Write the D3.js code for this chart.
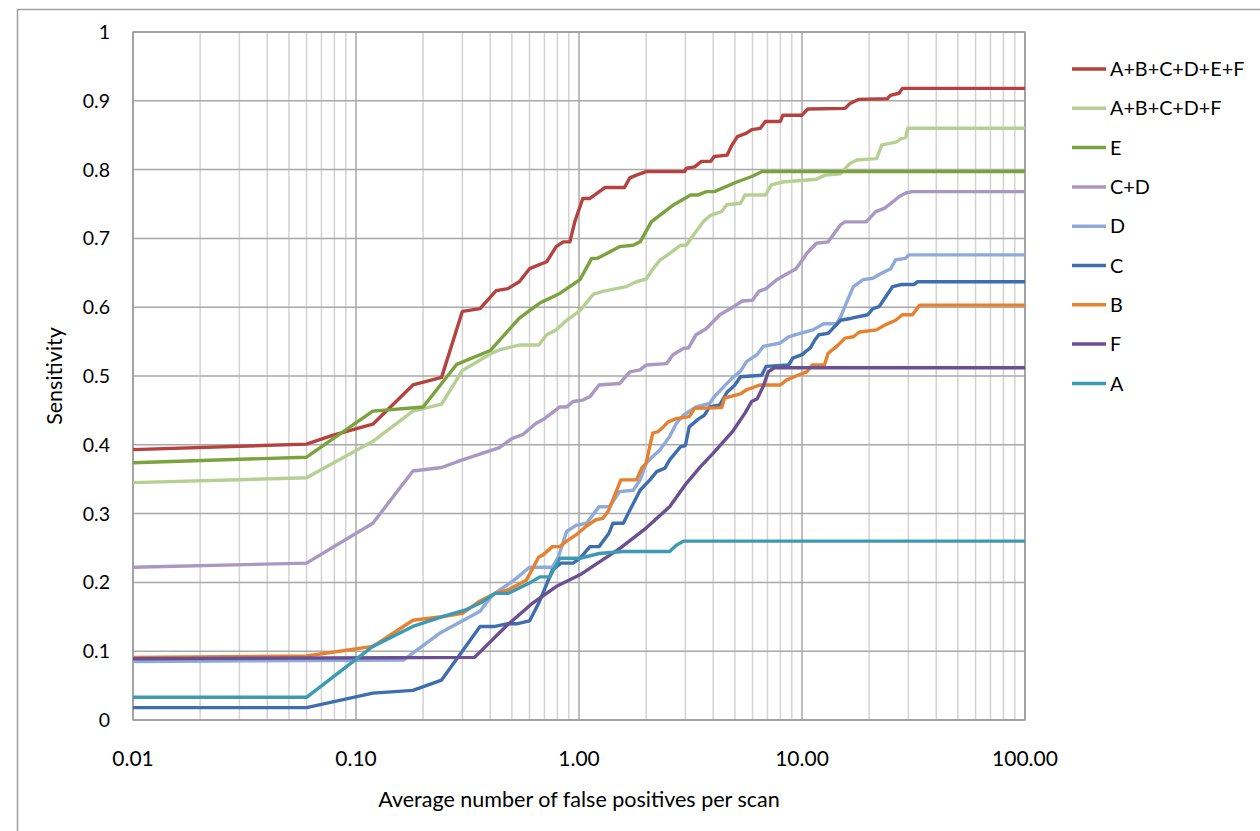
<!DOCTYPE html>
<html>
<head>
<meta charset="utf-8">
<script src="https://cdn.jsdelivr.net/npm/d3@7"></script>
<style>
  html, body { margin: 0; padding: 0; background: #fff; }
  svg { display: block; font-family: Lato, "Open Sans", sans-serif; }
</style>
</head>
<body>
<svg id="chart" width="1260" height="831"></svg>
<script>
// Series data: [false positives per scan, sensitivity]
const seriesNames = ['A+B+C+D+E+F', 'A+B+C+D+F', 'E', 'C+D', 'D', 'C', 'B', 'F', 'A'];
const seriesColors = ['#b5423e', '#b6d093', '#7aa23e', '#a898c4', '#8eaadb', '#3e6ead', '#e6812f', '#6a4f92', '#3c9bb2'];

const dataABCDEF = [[0.01,0.393],[0.06,0.401],[0.079,0.414],[0.119,0.430],[0.18,0.487],[0.242,0.498],[0.30,0.594],[0.36,0.598],[0.425,0.624],[0.48,0.627],[0.54,0.637],[0.60,0.656],[0.716,0.666],[0.79,0.688],[0.85,0.695],[0.91,0.695],[0.957,0.724],[1.04,0.758],[1.12,0.758],[1.31,0.774],[1.60,0.774],[1.69,0.788],[1.81,0.792],[2.0,0.797],[2.97,0.797],[3.03,0.802],[3.3,0.804],[3.54,0.812],[3.9,0.812],[4.04,0.819],[4.61,0.821],[4.86,0.836],[5.13,0.848],[5.64,0.853],[5.95,0.858],[6.5,0.860],[6.85,0.870],[8.0,0.870],[8.2,0.879],[9.98,0.879],[10.6,0.888],[15.6,0.889],[16.4,0.896],[17.9,0.902],[24.1,0.903],[24.9,0.908],[27.2,0.911],[28.2,0.918],[100,0.918]];
const dataABCDF = [[0.01,0.345],[0.06,0.352],[0.119,0.405],[0.18,0.449],[0.242,0.459],[0.30,0.508],[0.40,0.532],[0.44,0.538],[0.54,0.545],[0.66,0.545],[0.716,0.560],[0.79,0.567],[0.88,0.581],[1.01,0.595],[1.16,0.619],[1.28,0.623],[1.47,0.627],[1.63,0.630],[1.81,0.637],[2.0,0.641],[2.14,0.655],[2.3,0.668],[2.5,0.676],[2.85,0.690],[3.03,0.690],[3.3,0.707],[3.6,0.724],[3.9,0.734],[4.36,0.739],[4.6,0.749],[5.3,0.751],[5.55,0.763],[6.85,0.763],[7.3,0.778],[8.2,0.782],[11.6,0.786],[12.7,0.792],[14.9,0.794],[16.4,0.809],[17.6,0.814],[21.6,0.816],[22.8,0.836],[26.4,0.840],[27.9,0.845],[29.2,0.847],[29.8,0.860],[100,0.860]];
const dataE = [[0.01,0.374],[0.06,0.382],[0.119,0.449],[0.20,0.455],[0.283,0.517],[0.40,0.537],[0.54,0.584],[0.667,0.606],[0.82,0.620],[1.01,0.640],[1.14,0.671],[1.21,0.671],[1.52,0.688],[1.75,0.690],[1.88,0.695],[2.11,0.724],[2.66,0.749],[3.17,0.763],[3.4,0.763],[3.73,0.768],[4.04,0.768],[5.1,0.782],[5.95,0.790],[6.6,0.797],[100,0.797]];
const dataCD = [[0.01,0.222],[0.06,0.228],[0.119,0.286],[0.18,0.362],[0.242,0.367],[0.30,0.378],[0.44,0.396],[0.50,0.409],[0.56,0.415],[0.64,0.431],[0.70,0.438],[0.82,0.455],[0.88,0.455],[0.94,0.463],[1.04,0.465],[1.12,0.470],[1.23,0.487],[1.52,0.489],[1.69,0.506],[1.88,0.509],[2.0,0.516],[2.47,0.518],[2.64,0.531],[2.94,0.540],[3.1,0.541],[3.35,0.560],[3.73,0.569],[4.28,0.589],[4.78,0.598],[5.4,0.609],[6.0,0.610],[6.4,0.623],[6.9,0.627],[7.7,0.640],[8.5,0.648],[9.4,0.656],[10.0,0.668],[10.5,0.678],[11.6,0.693],[13.1,0.695],[14.9,0.720],[15.6,0.724],[19.4,0.724],[21.4,0.739],[23.5,0.744],[25.5,0.753],[27.3,0.761],[29.2,0.766],[31.2,0.768],[100,0.768]];
const dataD = [[0.01,0.085],[0.163,0.087],[0.237,0.126],[0.36,0.158],[0.41,0.182],[0.51,0.203],[0.60,0.222],[0.76,0.222],[0.81,0.238],[0.88,0.274],[0.97,0.283],[1.08,0.286],[1.23,0.310],[1.37,0.310],[1.52,0.332],[1.75,0.334],[1.88,0.349],[2.0,0.373],[2.14,0.383],[2.3,0.392],[2.55,0.412],[2.73,0.431],[2.94,0.443],[3.35,0.455],[3.85,0.460],[4.04,0.470],[4.6,0.489],[4.86,0.497],[5.3,0.507],[5.64,0.521],[6.28,0.531],[6.7,0.543],[8.0,0.548],[8.7,0.557],[9.8,0.562],[11.2,0.567],[12.5,0.576],[14.3,0.576],[14.9,0.586],[15.9,0.608],[17.0,0.630],[18.8,0.640],[20.8,0.642],[22.6,0.649],[25,0.656],[26.3,0.669],[29.1,0.671],[30.1,0.676],[100,0.676]];
const dataC = [[0.01,0.018],[0.06,0.018],[0.119,0.039],[0.18,0.043],[0.242,0.058],[0.36,0.136],[0.42,0.136],[0.48,0.140],[0.53,0.140],[0.60,0.144],[0.667,0.173],[0.76,0.218],[0.83,0.228],[0.94,0.228],[1.01,0.235],[1.12,0.252],[1.23,0.252],[1.36,0.271],[1.42,0.286],[1.58,0.286],[1.69,0.305],[1.88,0.334],[2.08,0.349],[2.23,0.361],[2.43,0.366],[2.55,0.378],[2.85,0.397],[3.0,0.399],[3.12,0.426],[3.45,0.438],[3.65,0.443],[3.85,0.455],[4.28,0.458],[4.6,0.476],[5.0,0.487],[5.3,0.499],[6.6,0.501],[6.9,0.514],[8.7,0.516],[9.1,0.526],[10.0,0.531],[10.9,0.541],[11.4,0.552],[11.9,0.560],[13.1,0.562],[14.9,0.581],[16.7,0.584],[19.7,0.589],[20.8,0.598],[22.2,0.601],[23.5,0.613],[25.5,0.630],[28.0,0.633],[31.7,0.633],[33.0,0.637],[100,0.637]];
const dataB = [[0.01,0.091],[0.06,0.093],[0.119,0.107],[0.18,0.145],[0.242,0.150],[0.30,0.155],[0.36,0.173],[0.42,0.184],[0.48,0.189],[0.58,0.203],[0.66,0.237],[0.69,0.240],[0.76,0.252],[0.82,0.252],[0.88,0.260],[0.97,0.269],[1.08,0.282],[1.19,0.291],[1.28,0.293],[1.36,0.305],[1.54,0.349],[1.81,0.349],[1.91,0.366],[2.0,0.373],[2.14,0.417],[2.26,0.419],[2.39,0.426],[2.5,0.433],[2.73,0.438],[3.12,0.441],[3.3,0.453],[4.36,0.454],[4.5,0.468],[5.3,0.474],[5.64,0.480],[6.5,0.487],[8.0,0.487],[8.5,0.494],[9.4,0.500],[10.5,0.506],[11.1,0.516],[12.6,0.516],[13.1,0.533],[14.3,0.543],[15.6,0.555],[17.0,0.557],[18.1,0.564],[21.6,0.567],[23.5,0.574],[26.3,0.581],[28.2,0.589],[31.3,0.589],[33.7,0.603],[100,0.603]];
const dataF = [[0.01,0.089],[0.34,0.091],[0.47,0.136],[0.62,0.170],[0.79,0.194],[1.01,0.211],[1.52,0.249],[2.0,0.279],[2.55,0.310],[3.03,0.344],[3.5,0.368],[4.0,0.388],[4.9,0.420],[5.55,0.446],[5.95,0.463],[6.3,0.467],[6.7,0.485],[7.06,0.506],[7.5,0.512],[100,0.512]];
const dataA = [[0.01,0.033],[0.06,0.033],[0.119,0.107],[0.18,0.136],[0.242,0.150],[0.31,0.160],[0.37,0.172],[0.42,0.184],[0.48,0.184],[0.60,0.199],[0.667,0.208],[0.74,0.208],[0.82,0.235],[1.01,0.235],[1.23,0.242],[1.58,0.245],[2.55,0.245],[2.73,0.254],[2.94,0.260],[100,0.260]];

const allSeries = [dataABCDEF, dataABCDF, dataE, dataCD, dataD, dataC, dataB, dataF, dataA];

// Tick values
const xTicks = [0.01, 0.1, 1, 10, 100];
const xTickLabels = ['0.01', '0.10', '1.00', '10.00', '100.00'];
const yTicks = [0, 0.1, 0.2, 0.3, 0.4, 0.5, 0.6, 0.7, 0.8, 0.9, 1];
const yTickLabels = ['0', '0.1', '0.2', '0.3', '0.4', '0.5', '0.6', '0.7', '0.8', '0.9', '1'];

const svg = d3.select('#chart');
const plot = { left: 133, top: 32, right: 1025, bottom: 720 };

// outer chart border (right/bottom edges fall outside the picture)
svg.append('rect')
  .attr('x', 17.5).attr('y', 9.5)
  .attr('width', 1300).attr('height', 900)
  .attr('fill', 'none').attr('stroke', '#a0a0a0').attr('stroke-width', 1.5);

const x = d3.scaleLog().domain([0.01, 100]).range([plot.left, plot.right]);
const y = d3.scaleLinear().domain([0, 1]).range([plot.bottom, plot.top]);

// Minor vertical grid lines (2..9 in each decade)
const minorX = [];
for (let d = -2; d < 2; d++) {
  for (let k = 2; k <= 9; k++) minorX.push(k * Math.pow(10, d));
}
svg.append('g').selectAll('line')
  .data(minorX).enter().append('line')
    .attr('x1', d => x(d)).attr('x2', d => x(d))
    .attr('y1', plot.top).attr('y2', plot.bottom)
    .attr('stroke', '#d3d3d3').attr('stroke-width', 1.5);

// Major grid lines
svg.append('g').selectAll('line')
  .data(xTicks).enter().append('line')
    .attr('x1', d => x(d)).attr('x2', d => x(d))
    .attr('y1', plot.top).attr('y2', plot.bottom)
    .attr('stroke', '#a9a9a9').attr('stroke-width', 1.5);
svg.append('g').selectAll('line')
  .data(yTicks).enter().append('line')
    .attr('x1', plot.left).attr('x2', plot.right)
    .attr('y1', d => y(d)).attr('y2', d => y(d))
    .attr('stroke', '#a9a9a9').attr('stroke-width', 1.5);

// Plot area border
svg.append('rect')
  .attr('x', plot.left).attr('y', plot.top)
  .attr('width', plot.right - plot.left).attr('height', plot.bottom - plot.top)
  .attr('fill', 'none').attr('stroke', '#9a9a9a').attr('stroke-width', 1.5);

// Axes labels
svg.append('g').selectAll('text')
  .data(yTicks).enter().append('text')
    .attr('x', 110).attr('y', d => y(d))
    .attr('dy', '0.36em')
    .attr('text-anchor', 'end')
    .attr('font-size', 19.5)
    .attr('fill', '#000')
    .text((d, i) => yTickLabels[i]);

svg.append('g').selectAll('text')
  .data(xTicks).enter().append('text')
    .attr('x', d => x(d)).attr('y', 766)
    .attr('text-anchor', 'middle')
    .attr('font-size', 21)
    .attr('fill', '#000')
    .text((d, i) => xTickLabels[i]);

svg.append('text')
  .attr('x', 579).attr('y', 807)
  .attr('text-anchor', 'middle')
  .attr('font-size', 21.5)
  .attr('fill', '#000')
  .text('Average number of false positives per scan');

svg.append('text')
  .attr('transform', 'translate(62, 376) rotate(-90)')
  .attr('text-anchor', 'middle')
  .attr('font-size', 21.5)
  .attr('fill', '#000')
  .text('Sensitivity');

// Lines
const line = d3.line().x(d => x(d[0])).y(d => y(d[1]));
svg.append('g').selectAll('path')
  .data(allSeries).enter().append('path')
    .attr('d', line)
    .attr('fill', 'none')
    .attr('stroke', (d, i) => seriesColors[i])
    .attr('stroke-width', 3.4)
    .attr('stroke-linejoin', 'round');

// Legend
const legend = svg.append('g').selectAll('g')
  .data(seriesNames).enter().append('g')
    .attr('transform', (d, i) => `translate(1072, ${69 + i * 39.3})`);
legend.append('line')
  .attr('x1', 0).attr('x2', 34)
  .attr('stroke', (d, i) => seriesColors[i])
  .attr('stroke-width', 3.5);
legend.append('text')
  .attr('x', 38).attr('dy', '0.36em')
  .attr('font-size', 19.8)
  .attr('fill', '#000')
  .text(d => d);
</script>
</body>
</html>
